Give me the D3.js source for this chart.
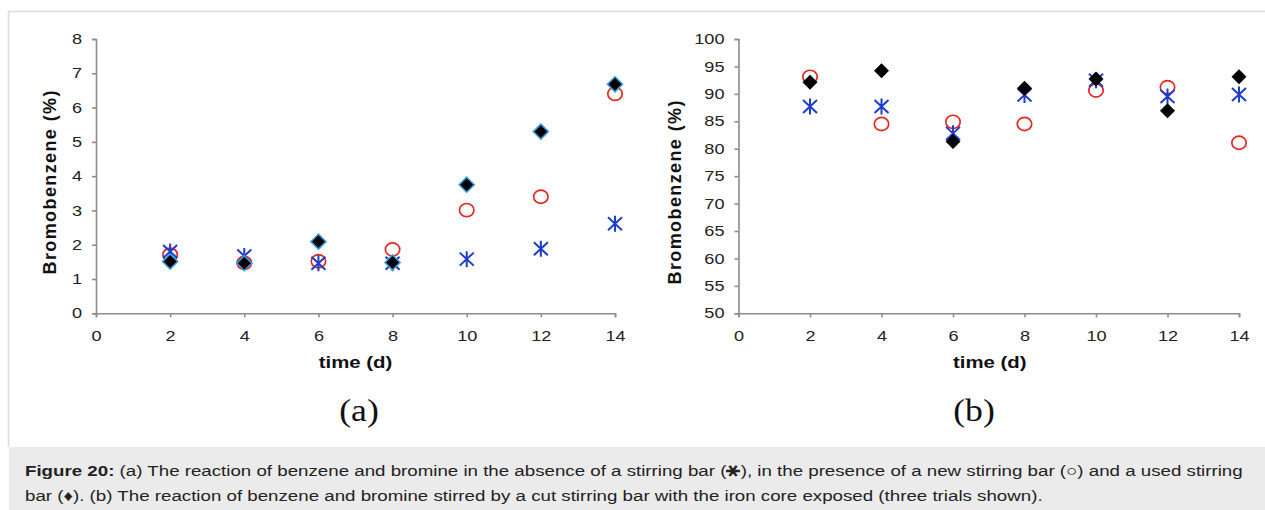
<!DOCTYPE html>
<html>
<head>
<meta charset="utf-8">
<script src="https://cdn.jsdelivr.net/npm/d3@7"></script>
<style>
  html, body { margin: 0; padding: 0; background: #fff; }
  svg { display: block; }
</style>
</head>
<body>
<svg id="fig" width="1265" height="510"></svg>
<script>
// Sampling days
const days = [2, 4, 6, 8, 10, 12, 14];
const xTicks = [0, 2, 4, 6, 8, 10, 12, 14];

// (a) no stirring bar (asterisk), new bar (circle), used bar (diamond)
const aNoBar   = [1.80, 1.67, 1.46, 1.46, 1.58, 1.88, 2.61];
const aNewBar  = [1.71, 1.47, 1.52, 1.86, 3.01, 3.40, 6.40];
const aUsedBar = [1.51, 1.46, 2.09, 1.48, 3.75, 5.30, 6.68];
const aYTicks  = [0, 1, 2, 3, 4, 5, 6, 7, 8];

// (b) cut stirring bar, three trials
const bTrial1 = [87.7, 87.7, 82.8, 89.8, 92.5, 89.5, 89.9]; // asterisk
const bTrial2 = [93.1, 84.5, 84.9, 84.5, 90.6, 91.2, 81.1]; // circle
const bTrial3 = [92.1, 94.2, 81.3, 91.0, 92.7, 86.9, 93.1]; // diamond
const bYTicks = [50, 55, 60, 65, 70, 75, 80, 85, 90, 95, 100];

const svg = d3.select("#fig");

// frame around the figure
svg.append("line").attr("x1", 8).attr("x2", 1265).attr("y1", 11.5).attr("y2", 11.5)
  .attr("stroke", "#dcdcdc").attr("stroke-width", 1.5);
svg.append("line").attr("x1", 8.5).attr("x2", 8.5).attr("y1", 11).attr("y2", 447)
  .attr("stroke", "#dcdcdc").attr("stroke-width", 1.5);

const axisColor = "#8c8c8c";
const sans = "'Liberation Sans', Arial, sans-serif";
const wide = 1.25; // the chart artwork is drawn slightly widened

function panel(opts) {
  const x = d3.scaleLinear().domain([0, 14]).range([opts.x0, opts.x1]);
  const y = d3.scaleLinear().domain(opts.yDomain).range([313.3, 39]);
  const g = svg.append("g");

  const gx = g.append("g").attr("transform", `translate(0,${y.range()[0]})`)
    .call(d3.axisBottom(x).tickValues(xTicks).tickSize(4).tickPadding(6).tickFormat(d3.format("d")));
  const gy = g.append("g").attr("transform", `translate(${x(0)},0)`)
    .call(d3.axisLeft(y).tickValues(opts.yTicks).tickSize(4).tickPadding(10).tickFormat(d3.format("d")));
  [gx, gy].forEach(a => {
    a.select(".domain").attr("stroke", axisColor).attr("stroke-width", 1.6);
    a.selectAll(".tick line").attr("stroke", axisColor).attr("stroke-width", 1.6);
    a.selectAll(".tick text").attr("fill", "#222").attr("font-size", 14.5)
      .attr("font-family", sans);
  });
  gx.selectAll(".tick text").attr("y", 0).attr("dy", 0)
    .attr("transform", `translate(0,341) scale(${wide},1)`).attr("y", 0);
  gx.selectAll(".tick text").attr("transform", `translate(0,28) scale(${wide},1)`);
  gy.selectAll(".tick text").attr("x", 0)
    .attr("transform", `translate(-14,0) scale(${wide},1)`);

  // axis titles
  g.append("text")
    .attr("transform", `translate(${(x(0) + x(14)) / 2 + opts.xTitleShift},368) scale(1.2,1)`)
    .attr("text-anchor", "middle").attr("font-family", sans)
    .attr("font-weight", "bold").attr("font-size", 17).attr("fill", "#111")
    .text("time (d)");
  g.append("text")
    .attr("transform", `translate(${opts.yTitleX},${opts.yTitleY}) rotate(-90)`)
    .attr("text-anchor", "middle").attr("font-family", sans)
    .attr("font-weight", "bold").attr("font-size", 18).attr("fill", "#111")
    .attr("textLength", 184).attr("lengthAdjust", "spacing")
    .text("Bromobenzene (%)");

  // panel letter
  g.append("text")
    .attr("transform", `translate(${opts.letterX},421) scale(1.15,1)`)
    .attr("text-anchor", "middle").attr("font-family", "'Liberation Serif', 'Times New Roman', serif")
    .attr("font-size", 31).attr("fill", "#111").text(opts.letter);

  // circles
  g.append("g").selectAll("ellipse").data(opts.circle).join("ellipse")
    .attr("cx", (d, i) => x(days[i])).attr("cy", d => y(d)).attr("rx", 7.2).attr("ry", 6.6)
    .attr("fill", "none").attr("stroke", "#e8261f").attr("stroke-width", 1.7);

  // asterisks: X with a vertical stroke
  g.append("g").selectAll("path").data(opts.star).join("path")
    .attr("transform", (d, i) => `translate(${x(days[i])},${y(d)})`)
    .attr("d", "M-7,-6.5L7,6.5M-7,6.5L7,-6.5M0,-8L0,8")
    .attr("stroke", "#1e3ccf").attr("stroke-width", 2).attr("fill", "none");

  // diamonds
  g.append("g").selectAll("path").data(opts.diamond).join("path")
    .attr("transform", (d, i) => `translate(${x(days[i])},${y(d)})`)
    .attr("d", "M0,-7.5L7.5,0L0,7.5L-7.5,0Z")
    .attr("fill", "#000")
    .attr("stroke", opts.diamondEdge).attr("stroke-width", opts.diamondEdge === "none" ? 0 : 1.6);
}

panel({
  x0: 96, x1: 615, yDomain: [0, 8], yTicks: aYTicks,
  star: aNoBar, circle: aNewBar, diamond: aUsedBar, diamondEdge: "#3c9ad8",
  yTitleX: 56, yTitleY: 182.5, xTitleShift: 0, letter: "(a)", letterX: 359
});
panel({
  x0: 738.5, x1: 1239, yDomain: [50, 100], yTicks: bYTicks,
  star: bTrial1, circle: bTrial2, diamond: bTrial3, diamondEdge: "none",
  yTitleX: 681, yTitleY: 192.5, xTitleShift: 1, letter: "(b)", letterX: 974
});

// caption
svg.append("rect").attr("x", 9).attr("y", 447).attr("width", 1256).attr("height", 63)
  .attr("fill", "#ebebeb");
const cap = svg.append("g").attr("transform", "translate(25,0) scale(1.224,1)")
  .append("text").attr("font-family", sans).attr("font-size", 15.3).attr("fill", "#222");
const l1 = cap.append("tspan").attr("x", 0).attr("y", 476);
l1.append("tspan").attr("font-weight", "bold").text("Figure 20:");
l1.append("tspan").text(" (a) The reaction of benzene and bromine in the absence of a stirring bar (");
l1.append("tspan").attr("font-weight", "bold").attr("font-size", 19).text("\u26B9");
l1.append("tspan").text("), in the presence of a new stirring bar (\u25CB) and a used stirring");
cap.append("tspan").attr("x", 0).attr("y", 501)
  .text("bar (\u2666). (b) The reaction of benzene and bromine stirred by a cut stirring bar with the iron core exposed (three trials shown).");
</script>
</body>
</html>
